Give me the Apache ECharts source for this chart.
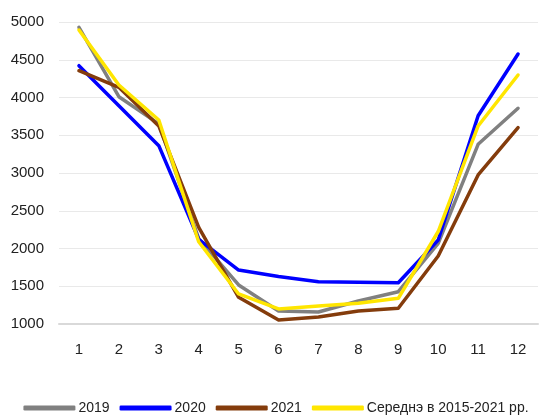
<!DOCTYPE html>
<html>
<head>
<meta charset="utf-8">
<script src="https://cdn.jsdelivr.net/npm/echarts@6/dist/echarts.min.js"></script>
<style>
  html, body { margin: 0; padding: 0; background: #fff; }
  #chart { width: 552px; height: 415px; }
</style>
</head>
<body>
<div id="chart"></div>
<script>
// Months along the x axis
const months = ['1', '2', '3', '4', '5', '6', '7', '8', '9', '10', '11', '12'];

// Monthly values per year
const values2019 = [4930, 4010, 3650, 2130, 1517, 1172, 1159, 1305, 1428, 2069, 3380, 3857];
const values2020 = [4421, 3890, 3362, 2122, 1715, 1630, 1560, 1552, 1547, 2113, 3759, 4576];
const values2021 = [4355, 4135, 3623, 2281, 1354, 1053, 1093, 1172, 1208, 1901, 2974, 3600];
const valuesAvg  = [4894, 4166, 3702, 2090, 1398, 1199, 1238, 1274, 1340, 2225, 3623, 4298];

// Y axis tick values
const yTicks = [1000, 1500, 2000, 2500, 3000, 3500, 4000, 4500, 5000];

const seriesNames = ['2019', '2020', '2021', 'Середнэ в 2015-2021 рр.'];
const seriesColors = ['#808080', '#0000FF', '#843C0C', '#FFE600'];
const seriesData = [values2019, values2020, values2021, valuesAvg];

const chart = echarts.init(document.getElementById('chart'), null, { renderer: 'canvas' });

const font = 'Liberation Sans';

chart.setOption({
  animation: false,
  backgroundColor: '#ffffff',
  grid: { left: 59, right: 14, top: 22, bottom: 91, containLabel: false },
  legend: {
    top: 401,
    left: 'center',
    padding: 0,
    itemWidth: 52,
    itemHeight: 5,
    itemGap: 10,
    icon: 'roundRect',
    textStyle: { fontFamily: font, fontSize: 14, lineHeight: 14, color: '#222', padding: [0, 0, 0, -2] },
    data: seriesNames
  },
  xAxis: {
    type: 'category',
    data: months,
    boundaryGap: true,
    axisLine: { lineStyle: { color: '#d9d9d9', width: 2 } },
    axisTick: { show: false },
    axisLabel: { fontFamily: font, fontSize: 15, color: '#222', margin: 18 }
  },
  yAxis: {
    type: 'value',
    min: yTicks[0],
    max: yTicks[yTicks.length - 1],
    interval: yTicks[1] - yTicks[0],
    axisLine: { show: false },
    axisTick: { show: false },
    splitLine: { lineStyle: { color: '#e9e9e9', width: 1 } },
    axisLabel: { fontFamily: font, fontSize: 15, color: '#222', margin: 15, formatter: v => String(v) }
  },
  series: seriesNames.map((name, i) => ({
    name: name,
    type: 'line',
    data: seriesData[i],
    symbol: 'none',
    color: seriesColors[i],
    lineStyle: { width: 3.5, color: seriesColors[i], cap: 'round', join: 'round' }
  }))
});
</script>
</body>
</html>
